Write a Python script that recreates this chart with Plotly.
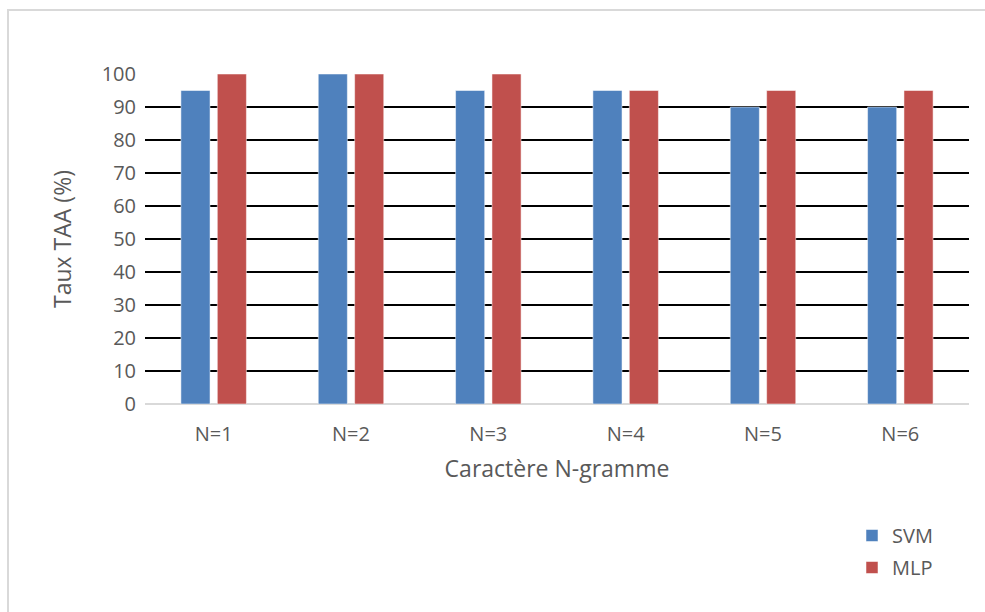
import plotly.graph_objects as go

categories = ["N=1", "N=2", "N=3", "N=4", "N=5", "N=6"]
svm_values = [95, 100, 95, 95, 90, 90]
mlp_values = [100, 100, 100, 95, 95, 95]
y_ticks = [0, 10, 20, 30, 40, 50, 60, 70, 80, 90, 100]

FONT = "'Open Sans', Lato, sans-serif"
GREY = "#595959"

fig = go.Figure()
fig.add_trace(go.Bar(
    name="SVM", x=categories, y=svm_values, legendgroup="svm",
    marker=dict(color="#4F81BD", line=dict(color="rgba(255,255,255,0.5)", width=1)),
))
fig.add_trace(go.Bar(
    name="MLP", x=categories, y=mlp_values, legendgroup="mlp",
    marker=dict(color="#C0504D", line=dict(color="rgba(255,255,255,0.5)", width=1)),
))

W, H = 985, 612
L, R, T, B = 145, 16, 74, 208
pw, ph = W - L - R, H - T - B

def px_x(v):
    return (v - L) / pw

def px_y(v):
    return (H - B - v) / ph

# outer chart frame
fig.add_shape(type="rect", xref="paper", yref="paper",
              x0=px_x(8), x1=px_x(995), y0=px_y(10), y1=px_y(620),
              line=dict(color="#D9D9D9", width=2), fillcolor="rgba(0,0,0,0)", layer="below")

fig.update_layout(
    width=W, height=H,
    margin=dict(l=L, r=R, t=T, b=B, pad=0),
    paper_bgcolor="white", plot_bgcolor="white",
    barmode="group", bargap=0.47, bargroupgap=0.2,
    font=dict(family=FONT, color=GREY, size=20),
    showlegend=True,
    legend=dict(x=px_x(852), y=px_y(516), xanchor="left", yanchor="top",
                font=dict(size=20, color=GREY), itemwidth=30,
                tracegroupgap=3, bgcolor="rgba(0,0,0,0)"),
    xaxis=dict(
        showgrid=False, zeroline=False, showline=False, ticks="",
        ticklabelstandoff=16,
        title=dict(text="Caractère N-gramme", font=dict(size=23, color=GREY), standoff=14),
    ),
    yaxis=dict(
        range=[0, 100], tickvals=y_ticks, ticktext=[str(v) for v in y_ticks],
        showgrid=True, gridcolor="black", gridwidth=2,
        zeroline=True, zerolinecolor="#D9D9D9", zerolinewidth=2,
        showline=False, ticks="", ticklabelstandoff=8,
        title=dict(text="Taux TAA (%)", font=dict(size=23, color=GREY), standoff=23),
    ),
)

fig.write_html("out.html")
